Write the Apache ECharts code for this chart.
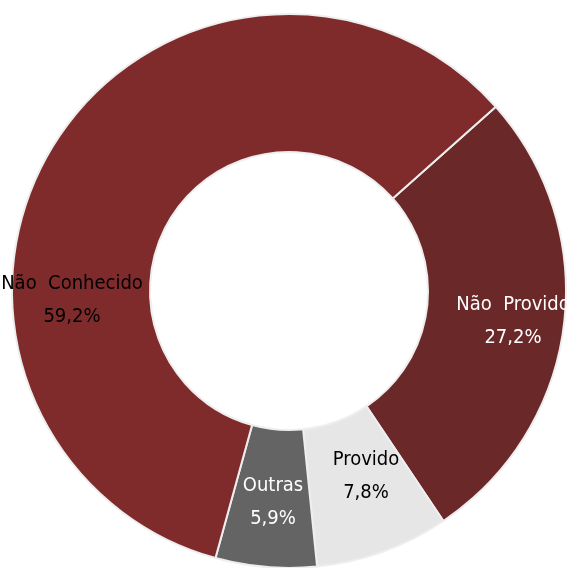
<!DOCTYPE html>
<html><head><meta charset="utf-8">
<script src="https://cdn.jsdelivr.net/npm/echarts@6/dist/echarts.min.js"></script>
<style>html,body{margin:0;padding:0;background:#fff}#c{width:568px;height:568px}</style>
</head><body><div id="c"></div>
<script>
const categories = ['Não Provido', 'Provido', 'Outras', 'Não Conhecido'];
const values = [27.2, 7.8, 5.9, 59.2];
const labels = ['27,2%', '7,8%', '5,9%', '59,2%'];
const colors = ['#6b2828', '#e6e6e6', '#646464', '#7f2a2b'];
const textColors = ['#ffffff', '#000000', '#ffffff', '#000000'];
const labelPos = [[513, 321], [366, 476], [273, 502], [72, 300]];

const chart = echarts.init(document.getElementById('c'));
chart.setOption({
  animation: false,
  series: [{
    type: 'pie',
    center: [289, 291],
    radius: [139, 277],
    startAngle: 41.7,
    clockwise: true,
    itemStyle: { borderColor: '#eeeeee', borderWidth: 2 },
    label: {
      position: 'inside',
      fontFamily: '"DejaVu Sans Condensed", "DejaVu Sans", sans-serif',
      fontSize: 20,
      lineHeight: 33,
      align: 'center',
      formatter: p => p.name.replace(' ', '  ') + '\n' + labels[p.dataIndex]
    },
    labelLayout: p => ({ x: labelPos[p.dataIndex][0], y: labelPos[p.dataIndex][1], align: 'center', verticalAlign: 'middle' }),
    data: categories.map((n, i) => ({
      name: n, value: values[i],
      itemStyle: { color: colors[i] },
      label: { color: textColors[i] }
    }))
  }]
});
</script></body></html>
